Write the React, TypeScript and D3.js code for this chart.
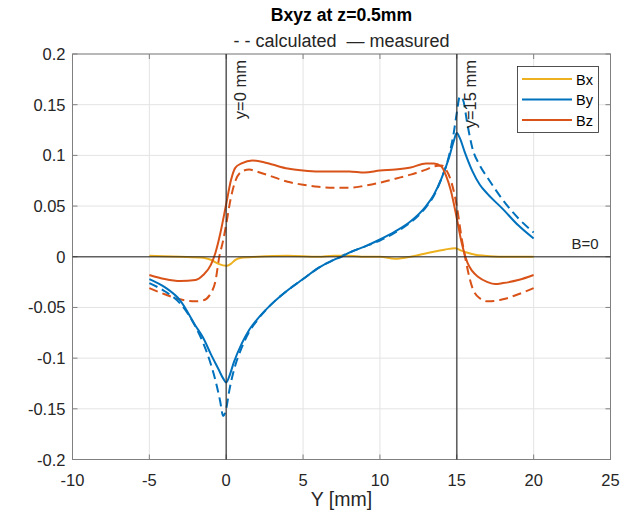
import React from "react";
import * as d3 from "d3";

const W = 633;
const H = 517;
const M = { left: 72.5, right: 610.5, top: 54, bottom: 459.5 };

const xTicks = [-10, -5, 0, 5, 10, 15, 20, 25];
const yTicks = [-0.2, -0.15, -0.1, -0.05, 0, 0.05, 0.1, 0.15, 0.2];
const yTickLabels = ["-0.2", "-0.15", "-0.1", "-0.05", "0", "0.05", "0.1", "0.15", "0.2"];

// By
const byMeasX = [-5, -4, -3, -2, -1.5, -1, -0.5, -0.2, 0, 0.2, 0.5, 1, 1.5, 2, 3, 4, 5, 6, 7, 7.5, 8, 9, 10, 11, 12, 13, 13.5, 14, 14.5, 14.8, 15, 15.2, 15.5, 16, 16.5, 17, 18, 19, 20];
const byMeasY = [-0.022, -0.030, -0.043, -0.068, -0.080, -0.096, -0.111, -0.120, -0.124, -0.118, -0.104, -0.086, -0.072, -0.062, -0.046, -0.033, -0.022, -0.011, -0.003, 0.000, 0.004, 0.010, 0.017, 0.025, 0.035, 0.050, 0.061, 0.077, 0.098, 0.114, 0.122, 0.117, 0.104, 0.085, 0.071, 0.062, 0.047, 0.031, 0.018];
const byCalcX = [-5, -4, -3, -2, -1.5, -1, -0.7, -0.4, -0.2, 0, 0.2, 0.5, 1, 1.5, 2, 3, 4, 5, 6, 7, 8, 9, 10, 11, 12, 13, 13.5, 14, 14.5, 14.8, 15, 15.2, 15.4, 15.7, 16, 16.5, 17, 18, 19, 20];
const byCalcY = [-0.026, -0.034, -0.046, -0.069, -0.085, -0.106, -0.122, -0.142, -0.157, -0.150, -0.132, -0.112, -0.090, -0.074, -0.063, -0.046, -0.033, -0.022, -0.011, -0.003, 0.004, 0.010, 0.016, 0.024, 0.034, 0.049, 0.060, 0.077, 0.100, 0.122, 0.142, 0.158, 0.155, 0.130, 0.108, 0.090, 0.078, 0.056, 0.038, 0.024];

// Bz
const bzMeasX = [-5, -4, -3, -2, -1.5, -1, -0.7, -0.4, 0, 0.3, 0.6, 1, 1.7, 2.5, 3, 4, 5, 6, 7, 8, 9, 10, 11, 12, 13, 13.5, 14, 14.3, 14.6, 15, 15.3, 15.7, 16, 16.4, 17, 17.5, 18, 19, 20];
const bzMeasY = [-0.018, -0.022, -0.024, -0.023, -0.018, -0.008, 0.004, 0.022, 0.052, 0.075, 0.088, 0.092, 0.095, 0.093, 0.091, 0.087, 0.085, 0.084, 0.084, 0.084, 0.083, 0.085, 0.086, 0.088, 0.092, 0.092, 0.089, 0.080, 0.066, 0.038, 0.015, -0.006, -0.014, -0.020, -0.025, -0.027, -0.026, -0.023, -0.018];
const bzCalcX = [-5, -4, -3, -2, -1.5, -1, -0.7, -0.45, -0.2, 0, 0.3, 0.6, 1, 1.5, 2, 3, 4, 5, 6, 7, 7.5, 8, 9, 10, 11, 12, 13, 13.5, 14, 14.3, 14.6, 15, 15.3, 15.6, 16, 16.5, 17, 18, 19, 20];
const bzCalcY = [-0.031, -0.037, -0.042, -0.044, -0.043, -0.036, -0.024, 0.000, 0.016, 0.032, 0.058, 0.075, 0.084, 0.086, 0.084, 0.079, 0.074, 0.071, 0.069, 0.068, 0.068, 0.068, 0.070, 0.073, 0.077, 0.081, 0.086, 0.089, 0.090, 0.086, 0.076, 0.050, 0.020, -0.005, -0.030, -0.041, -0.044, -0.042, -0.037, -0.031];

// Bx
const bxMeasX = [-5, -3, -1.5, -1, -0.5, 0, 0.3, 0.6, 1, 2, 4, 6, 7, 8, 9, 10, 11, 12, 12.6, 13.5, 14.2, 14.9, 15.3, 15.7, 16.2, 16.8, 18, 20];
const bxMeasY = [0.001, 0.000, -0.001, -0.003, -0.007, -0.009, -0.007, -0.003, -0.001, 0.000, 0.001, 0.000, 0.001, 0.001, 0.000, 0.000, -0.002, 0.000, 0.002, 0.005, 0.007, 0.0085, 0.006, 0.004, 0.002, 0.001, 0.000, 0.000];

const seriesNames = ["Bx", "By", "Bz"];
const seriesColors = ["#EDB120", "#0072BD", "#D95319"];

const FONT = "'Liberation Sans', Arial, Helvetica, sans-serif";

export default function App() {
  const x = d3.scaleLinear().domain([-10, 25]).range([M.left, M.right]);
  const y = d3.scaleLinear().domain([-0.2, 0.2]).range([M.bottom, M.top]);
  const line = (xs: number[], ys: number[]) =>
    d3
      .line<number>()
      .x((_, i) => x(xs[i]))
      .y((d) => y(d))
      .curve(d3.curveMonotoneX)(ys) || "";

  const curves = [
    { xs: bzCalcX, ys: bzCalcY, c: seriesColors[2], dash: "9 5" },
    { xs: byCalcX, ys: byCalcY, c: seriesColors[1], dash: "9 5" },
    { xs: bxMeasX, ys: bxMeasY, c: seriesColors[0], dash: "" },
    { xs: byMeasX, ys: byMeasY, c: seriesColors[1], dash: "" },
    { xs: bzMeasX, ys: bzMeasY, c: seriesColors[2], dash: "" },
  ];

  const textColor = "#262626";
  const boxColor = "#808080";
  const gridColor = "#e3e3e3";
  const refColor = "#262626";
  const tick = 5;

  return (
    <svg width={W} height={H} style={{ position: "absolute", left: 0, top: 0, background: "#fff" }} fontFamily={FONT}>
      <rect x={0} y={0} width={W} height={H} fill="#fff" />
      {/* grid */}
      {xTicks.map((t) => (
        <line key={"gx" + t} x1={x(t)} x2={x(t)} y1={M.top} y2={M.bottom} stroke={gridColor} strokeWidth={1} />
      ))}
      {yTicks.map((t) => (
        <line key={"gy" + t} x1={M.left} x2={M.right} y1={y(t)} y2={y(t)} stroke={gridColor} strokeWidth={1} />
      ))}
      {/* box */}
      <rect x={M.left} y={M.top} width={M.right - M.left} height={M.bottom - M.top} fill="none" stroke={boxColor} strokeWidth={1} />
      {xTicks.map((t) => (
        <g key={"tx" + t}>
          <line x1={x(t)} x2={x(t)} y1={M.bottom} y2={M.bottom - tick} stroke={boxColor} />
          <line x1={x(t)} x2={x(t)} y1={M.top} y2={M.top + tick} stroke={boxColor} />
          <text x={x(t)} y={M.bottom + 26} textAnchor="middle" fontSize={16.5} fill={textColor}>{t}</text>
        </g>
      ))}
      {yTicks.map((t, i) => (
        <g key={"ty" + t}>
          <line x1={M.left} x2={M.left + tick} y1={y(t)} y2={y(t)} stroke={boxColor} />
          <line x1={M.right} x2={M.right - tick} y1={y(t)} y2={y(t)} stroke={boxColor} />
          <text x={M.left - 7} y={y(t) + 6} textAnchor="end" fontSize={16.5} fill={textColor}>{yTickLabels[i]}</text>
        </g>
      ))}
      {/* curves */}
      {curves.map((cv, i) => (
        <path key={"c" + i} d={line(cv.xs, cv.ys)} fill="none" stroke={cv.c} strokeWidth={2} strokeDasharray={cv.dash || undefined} />
      ))}
      {/* reference lines (semi-transparent, on top) */}
      <g opacity={0.7}>
        <line x1={M.left} x2={M.right} y1={y(0)} y2={y(0)} stroke={refColor} strokeWidth={1.6} />
        <line x1={x(0)} x2={x(0)} y1={M.top} y2={M.bottom} stroke={refColor} strokeWidth={1.6} />
        <line x1={x(15)} x2={x(15)} y1={M.top} y2={M.bottom} stroke={refColor} strokeWidth={1.6} />
      </g>
      {/* reference labels */}
      <text transform={`translate(${x(0) + 19.5},${M.top + 6}) rotate(-90)`} textAnchor="end" fontSize={16.5} fill={textColor}>y=0 mm</text>
      <text transform={`translate(${x(15) + 19.5},${M.top + 6}) rotate(-90)`} textAnchor="end" fontSize={16.5} fill={textColor}>y=15 mm</text>
      <text x={M.right - 12} y={y(0) - 8} textAnchor="end" fontSize={15} fill={textColor}>B=0</text>
      {/* titles */}
      <text x={(M.left + M.right) / 2} y={21} textAnchor="middle" fontSize={17.6} fontWeight="bold" fill="#000">Bxyz at z=0.5mm</text>
      <text x={(M.left + M.right) / 2} y={47} textAnchor="middle" fontSize={18} fill={textColor} style={{ whiteSpace: "pre" }}>{"- - calculated  \u2014 measured"}</text>
      <text x={(M.left + M.right) / 2} y={506} textAnchor="middle" fontSize={19.5} fill={textColor}>Y [mm]</text>
      {/* legend */}
      <rect x={517.5} y={66.5} width={81} height={66} fill="#fff" stroke={textColor} strokeWidth={0.8} />
      {seriesNames.map((n, i) => (
        <g key={n}>
          <line x1={522} x2={572} y1={79 + i * 20.5} y2={79 + i * 20.5} stroke={seriesColors[i]} strokeWidth={2} />
          <text x={576} y={84.5 + i * 20.5} fontSize={14.5} fill="#000">{n}</text>
        </g>
      ))}
    </svg>
  );
}
